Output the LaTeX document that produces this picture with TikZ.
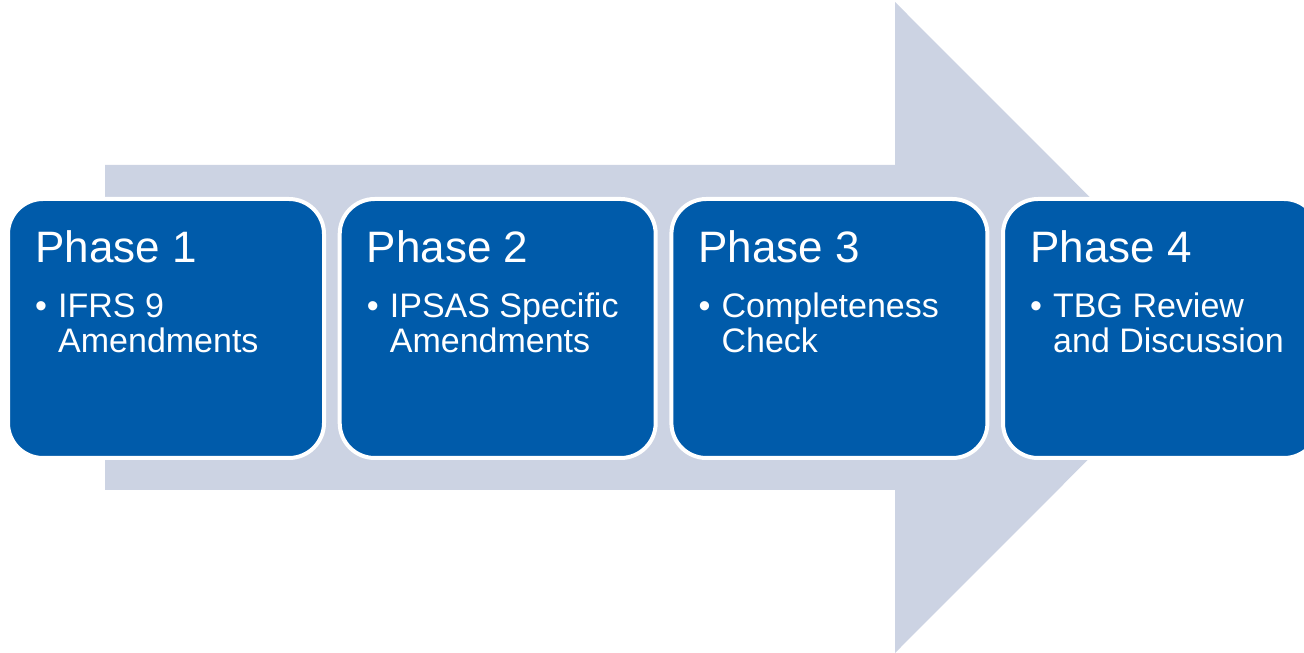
\documentclass[tikz,border=0pt]{standalone}
\usepackage{fontspec}
\setmainfont{Liberation Sans}
\usetikzlibrary{positioning}

\definecolor{phaseblue}{RGB}{0,91,170}
\definecolor{arrowgrey}{RGB}{204,211,227}

\tikzset{
    phasebox/.style={draw=white, line width=4pt, fill=phaseblue, rounded corners=35pt,
        minimum width=316pt, minimum height=259pt, inner sep=0pt, outer sep=0pt},
    phasetitle/.style={text=white, anchor=base west, inner sep=0pt,
        font=\fontsize{44}{48}\selectfont},
    phaseitem/.style={text=white, anchor=base west, inner sep=0pt, align=left,
        font=\fontsize{34}{35}\selectfont},
}

\begin{document}
\begin{tikzpicture}[x=1pt, y=1pt]
    \useasboundingbox (0,0) rectangle (1304,653);

    % Big background arrow
    \fill[arrowgrey] (105,163) -- (895,163) -- (895,0) -- (1220,325.5)
        -- (895,651) -- (895,488) -- (105,488) -- cycle;

    % Phase boxes
    \node[phasebox] (box1) at (166,324.5) {};
    \node[phasebox] (box2) at (497.7,324.5) {};
    \node[phasebox] (box3) at (829.4,324.5) {};
    \node[phasebox] (box4) at (1161,324.5) {};

    % Titles
    \node[phasetitle] (title1) at ([xshift=27pt, yshift=-64pt]box1.north west) {Phase 1};
    \node[phasetitle] (title2) at ([xshift=27pt, yshift=-64pt]box2.north west) {Phase 2};
    \node[phasetitle] (title3) at ([xshift=27pt, yshift=-64pt]box3.north west) {Phase 3};
    \node[phasetitle] (title4) at ([xshift=27pt, yshift=-64pt]box4.north west) {Phase 4};

    % Bullets and their text (base of a two-line node sits on its last line)
    \node[phaseitem] (dot1) at ([xshift=27pt, yshift=-119pt]box1.north west) {\textbullet};
    \node[phaseitem] (item1) at ([xshift=50pt, yshift=-154pt]box1.north west) {IFRS 9\\Amendments};
    \node[phaseitem] (dot2) at ([xshift=27pt, yshift=-119pt]box2.north west) {\textbullet};
    \node[phaseitem] (item2) at ([xshift=50pt, yshift=-154pt]box2.north west) {IPSAS Specific\\Amendments};
    \node[phaseitem] (dot3) at ([xshift=27pt, yshift=-119pt]box3.north west) {\textbullet};
    \node[phaseitem] (item3) at ([xshift=50pt, yshift=-154pt]box3.north west) {Completeness\\Check};
    \node[phaseitem] (dot4) at ([xshift=27pt, yshift=-119pt]box4.north west) {\textbullet};
    \node[phaseitem] (item4) at ([xshift=50pt, yshift=-154pt]box4.north west) {TBG Review\\and Discussion};
\end{tikzpicture}
\end{document}
